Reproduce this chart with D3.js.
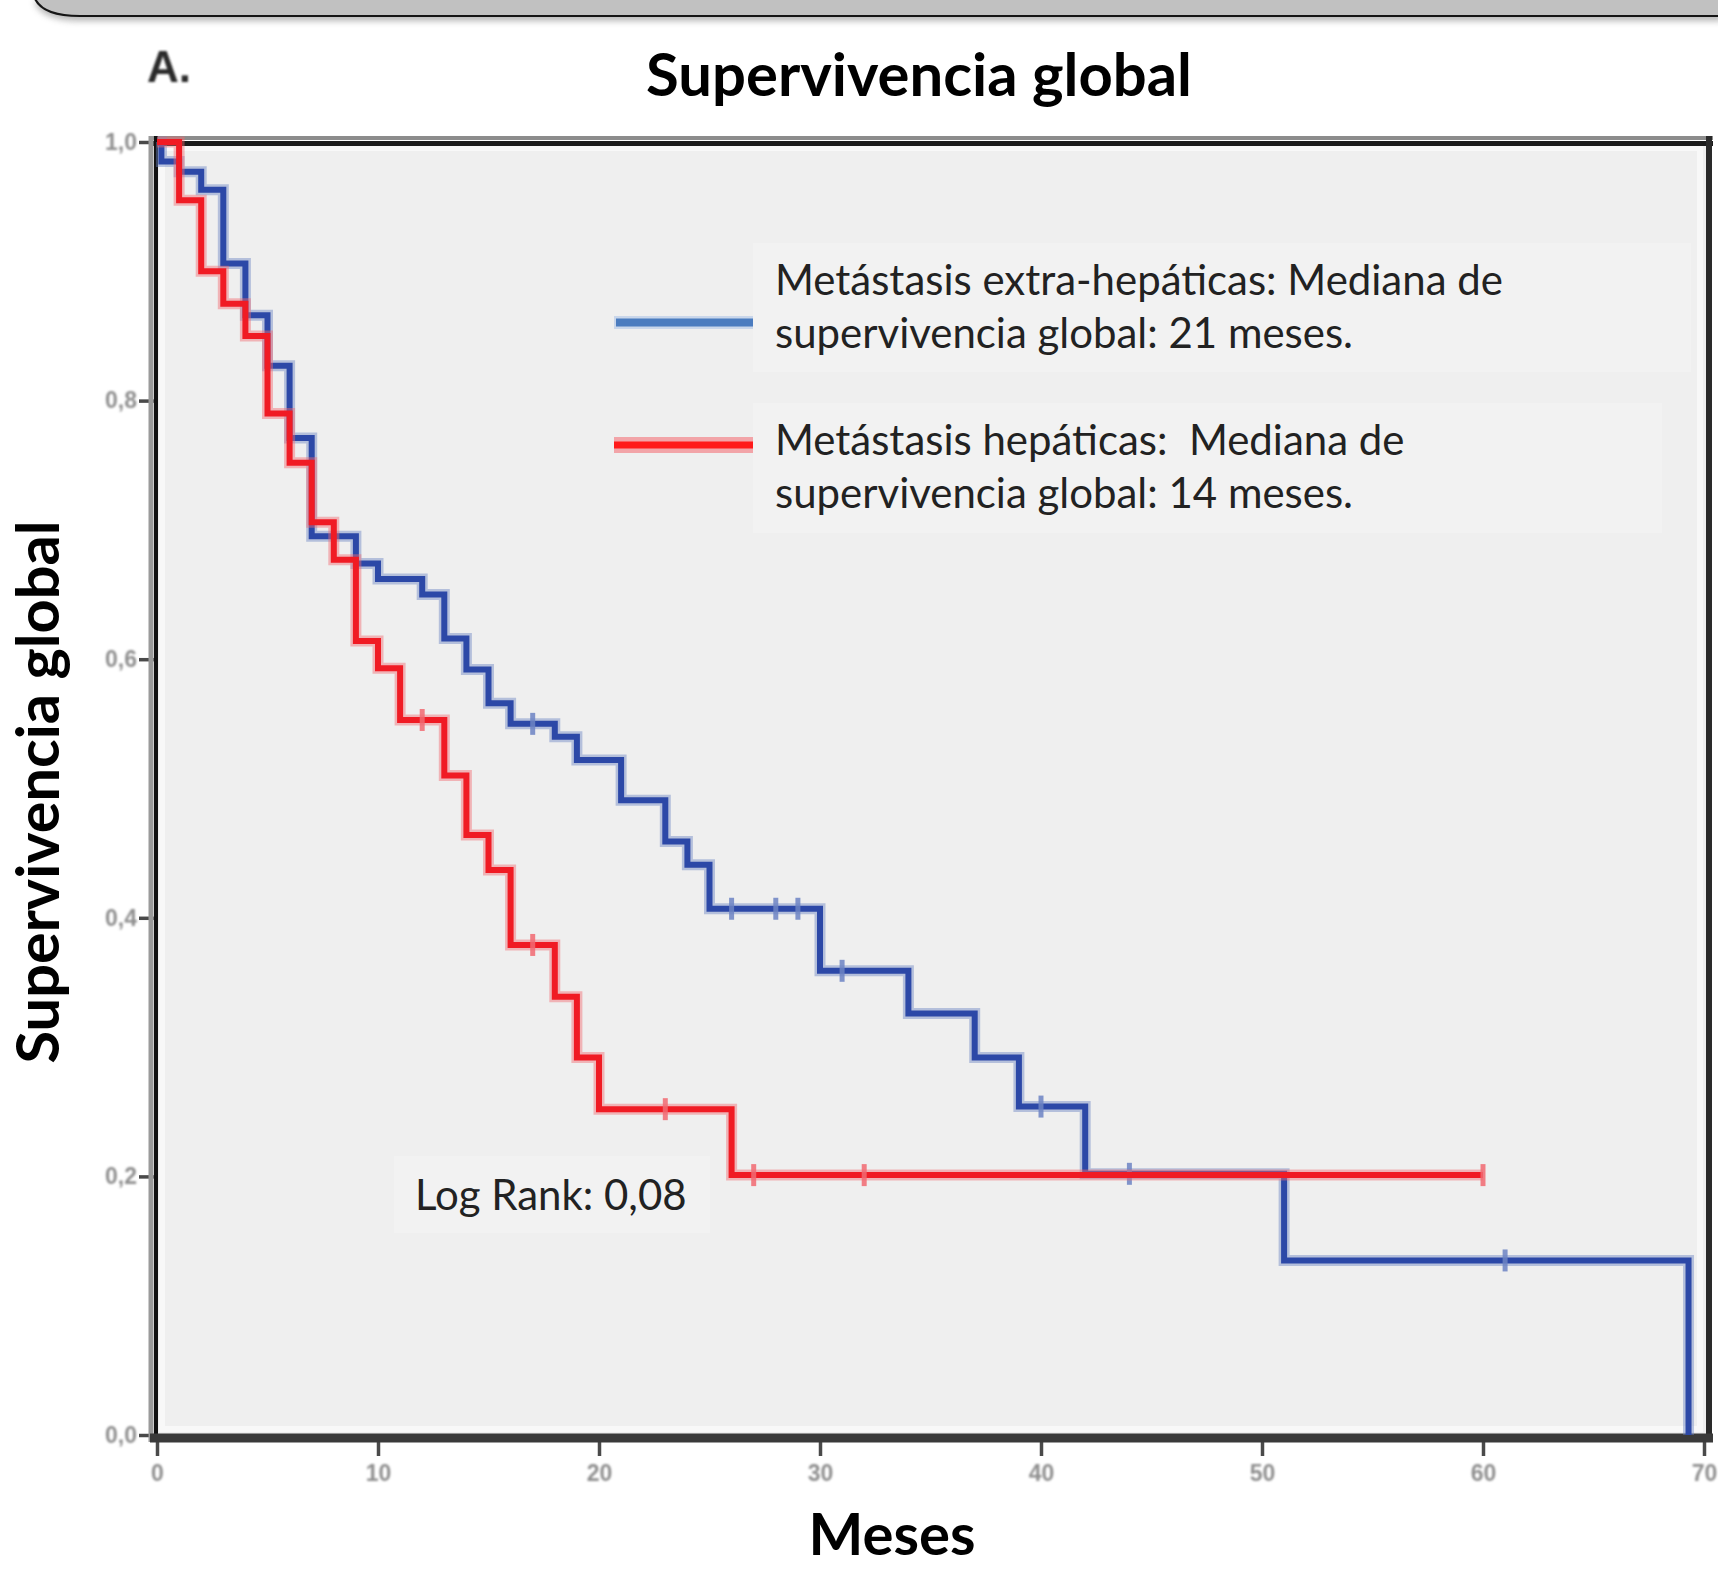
<!DOCTYPE html>
<html><head><meta charset="utf-8">
<script src="https://cdn.jsdelivr.net/npm/d3@7"></script>
<style>body{margin:0;background:#fff}</style>
</head><body>
<svg id="chart" width="1718" height="1576"></svg>
<script>
// ---- data ----
const xTicks = [0, 10, 20, 30, 40, 50, 60, 70];
const xTickLabels = ["0", "10", "20", "30", "40", "50", "60", "70"];
const yTicks = [0, 0.2, 0.4, 0.6, 0.8, 1.0];
const yTickLabels = ["0,0", "0,2", "0,4", "0,6", "0,8", "1,0"];

// Metástasis extra-hepáticas (blue)
const extraTimes = [0, 0.2, 1, 2, 3, 4, 5, 6, 7, 9, 10, 12, 13, 14, 15, 16, 18, 19, 21, 23, 24, 25, 30, 34, 37, 39, 42, 51, 69.3];
const extraSurv  = [1, 0.985, 0.977, 0.963, 0.906, 0.866, 0.827, 0.771, 0.695, 0.674, 0.662, 0.650, 0.616, 0.592, 0.566, 0.550, 0.540, 0.522, 0.491, 0.459, 0.441, 0.407, 0.359, 0.326, 0.292, 0.254, 0.202, 0.135, 0];
const extraCensor = [17, 26, 28, 29, 31, 40, 44, 61];

// Metástasis hepáticas (red)
const hepTimes = [0, 1, 2, 3, 4, 5, 6, 7, 8, 9, 10, 11, 13, 14, 15, 16, 18, 19, 20, 26];
const hepSurv  = [1, 0.955, 0.900, 0.875, 0.850, 0.790, 0.752, 0.706, 0.677, 0.614, 0.593, 0.553, 0.510, 0.464, 0.437, 0.379, 0.339, 0.292, 0.252, 0.201];
const hepEnd = 60;
const hepCensor = [12, 17, 23, 27, 32, 60];

const titleText = "Supervivencia global";
const xLabel = "Meses";
const yLabel = "Supervivencia global";
const legendLines = [
  ["Metástasis extra-hepáticas: Mediana de", "supervivencia global: 21 meses."],
  ["Metástasis hepáticas:  Mediana de", "supervivencia global: 14 meses."]
];
const logRankText = "Log Rank: 0,08";

// ---- drawing ----
const svg = d3.select("#chart");
const defs = svg.append("defs");
defs.append("filter").attr("id", "blur").append("feGaussianBlur").attr("stdDeviation", 0.9);
defs.append("filter").attr("id", "shadow").attr("y", "-50%").attr("height", "300%")
  .append("feGaussianBlur").attr("stdDeviation", 3);

const x = d3.scaleLinear().domain([0, 70]).range([157, 1704]);
const y = d3.scaleLinear().domain([0, 1]).range([1435, 142]);

// top banner (previous panel)
const bannerPath = "M 34,-4 C 38,9 54,16 80,16 L 1722,16 L 1722,-4 Z";
svg.append("path").attr("d", bannerPath).attr("transform", "translate(0,5)")
  .attr("fill", "#9a9a9a").attr("filter", "url(#shadow)").attr("opacity", 0.7);
svg.append("path").attr("d", bannerPath).attr("fill", "#c1c1c1").attr("stroke", "#151515").attr("stroke-width", 2.2);

// plot background
svg.append("rect").attr("x", x(0)).attr("y", y(1)).attr("width", x(70) - x(0) + 3).attr("height", y(0) - y(1))
  .attr("fill", "#efefef");
svg.append("rect").attr("x", x(0) + 5).attr("y", y(1) + 6).attr("width", x(70) - x(0) - 9).attr("height", y(0) - y(1) - 12)
  .attr("fill", "none").attr("stroke", "#f8f8f8").attr("stroke-width", 6);

// legend / annotation boxes
svg.append("rect").attr("x", 753).attr("y", 243).attr("width", 938).attr("height", 129).attr("fill", "#f2f2f2");
svg.append("rect").attr("x", 753).attr("y", 403).attr("width", 909).attr("height", 130).attr("fill", "#f2f2f2");
svg.append("rect").attr("x", 394).attr("y", 1156).attr("width", 316).attr("height", 77).attr("fill", "#f2f2f2");

// axes (ticks + labels)
const xAxis = d3.axisBottom(x).tickValues(xTicks).tickFormat((d, i) => xTickLabels[i]).tickSize(15).tickPadding(9);
const gx = svg.append("g").attr("transform", "translate(0,1441)").call(xAxis);
const yAxis = d3.axisLeft(y).tickValues(yTicks).tickFormat((d, i) => yTickLabels[i]).tickSize(15).tickPadding(2);
const gy = svg.append("g").attr("transform", "translate(154,0)").call(yAxis);
[gx, gy].forEach(g => {
  g.select(".domain").remove();
  g.selectAll(".tick line").attr("stroke", "#4a4a4a").attr("stroke-width", 3.5);
  g.selectAll(".tick text").attr("fill", "#8f8f8f").attr("font-family", "Liberation Sans, Arial, sans-serif")
    .attr("font-size", 23).attr("font-weight", "bold").attr("filter", "url(#blur)");
});

// frame
svg.append("line").attr("x1", 150).attr("x2", 1713).attr("y1", 138).attr("y2", 138).attr("stroke", "#8c8c8c").attr("stroke-width", 4);
svg.append("line").attr("x1", 150).attr("x2", 1713).attr("y1", 143.5).attr("y2", 143.5).attr("stroke", "#1c1c1c").attr("stroke-width", 5);
svg.append("line").attr("x1", 151).attr("x2", 151).attr("y1", 136).attr("y2", 1442).attr("stroke", "#9a9a9a").attr("stroke-width", 5);
svg.append("line").attr("x1", 156).attr("x2", 156).attr("y1", 136).attr("y2", 1442).attr("stroke", "#111", ).attr("stroke-width", 4);
svg.append("line").attr("x1", 1709).attr("x2", 1709).attr("y1", 136).attr("y2", 1442).attr("stroke", "#2a2a2a").attr("stroke-width", 6);
svg.append("line").attr("x1", 150).attr("x2", 1713).attr("y1", 1438).attr("y2", 1438).attr("stroke", "#3a3a3a").attr("stroke-width", 9);

// curves
const line = d3.line().x(d => x(d[0])).y(d => y(d[1])).curve(d3.curveStepAfter);
const extraPts = extraTimes.map((t, i) => [t, extraSurv[i]]);
const hepPts = hepTimes.map((t, i) => [t, hepSurv[i]]).concat([[hepEnd, hepSurv[hepSurv.length - 1]]]);
function survAt(times, surv, t) {
  let s = surv[0];
  for (let i = 0; i < times.length; i++) if (times[i] <= t) s = surv[i];
  return s;
}
function drawCurve(pts, times, surv, censor, core, halo) {
  const g = svg.append("g");
  g.append("path").attr("d", line(pts)).attr("fill", "none").attr("stroke", halo).attr("stroke-width", 11).attr("opacity", 0.45);
  g.append("path").attr("d", line(pts)).attr("fill", "none").attr("stroke", core).attr("stroke-width", 6);
  g.selectAll("line.c").data(censor).enter().append("line")
    .attr("x1", d => x(d)).attr("x2", d => x(d))
    .attr("y1", d => y(survAt(times, surv, d)) - 11).attr("y2", d => y(survAt(times, surv, d)) + 11)
    .attr("stroke", halo).attr("stroke-width", 5).attr("opacity", 0.85);
}
drawCurve(extraPts, extraTimes, extraSurv, extraCensor, "#2c48a7", "#6d84c4");
drawCurve(hepPts, hepTimes, hepSurv, hepCensor, "#f01b24", "#f26a72");

// legend keys
svg.append("line").attr("x1", 614).attr("x2", 753).attr("y1", 322.5).attr("y2", 322.5).attr("stroke", "#c9d6ea").attr("stroke-width", 13);
svg.append("line").attr("x1", 616).attr("x2", 753).attr("y1", 322.5).attr("y2", 322.5).attr("stroke", "#4b7cbf").attr("stroke-width", 8);
svg.append("line").attr("x1", 614).attr("x2", 753).attr("y1", 445).attr("y2", 445).attr("stroke", "#f2a4a8").attr("stroke-width", 16);
svg.append("line").attr("x1", 614).attr("x2", 753).attr("y1", 445).attr("y2", 445).attr("stroke", "#ff1a1a").attr("stroke-width", 7);

// texts
const sans = "Lato, 'Open Sans', sans-serif";
function fit(sel, target) {
  const w = sel.node().getComputedTextLength();
  const fs = parseFloat(sel.attr("font-size"));
  const nfs = fs * target / w;
  sel.attr("font-size", nfs);
  return nfs;
}
const l1 = svg.append("text").attr("x", 775).attr("y", 295).attr("font-family", sans).attr("font-size", 40)
  .attr("fill", "#222").style("white-space", "pre").text(legendLines[0][0]);
const lfs = fit(l1, 728);
[[legendLines[0][1], 348], [legendLines[1][0], 455], [legendLines[1][1], 508]].forEach(([t, yy]) => {
  svg.append("text").attr("x", 775).attr("y", yy).attr("font-family", sans).attr("font-size", lfs)
    .attr("fill", "#222").style("white-space", "pre").text(t);
});
svg.append("text").attr("x", 415).attr("y", 1210).attr("font-family", sans).attr("font-size", lfs)
  .attr("fill", "#222").text(logRankText);

const title = svg.append("text").attr("x", 919).attr("y", 96).attr("text-anchor", "middle")
  .attr("font-family", sans).attr("font-weight", "bold").attr("font-size", 50).attr("fill", "#000").text(titleText);
fit(title, 546);
const yl = svg.append("text").attr("transform", "translate(59,792) rotate(-90)").attr("text-anchor", "middle")
  .attr("font-family", sans).attr("font-weight", "bold").attr("font-size", 50).attr("fill", "#000").text(yLabel);
fit(yl, 543);
const xl = svg.append("text").attr("x", 892).attr("y", 1555).attr("text-anchor", "middle")
  .attr("font-family", sans).attr("font-weight", "bold").attr("font-size", 50).attr("fill", "#000").text(xLabel);
fit(xl, 167);

svg.append("text").attr("x", 147).attr("y", 82).attr("font-family", "Liberation Sans, Arial, sans-serif")
  .attr("font-weight", "bold").attr("font-size", 44).attr("fill", "#2a2a2a").attr("filter", "url(#blur)").text("A.");
</script>
</body></html>
